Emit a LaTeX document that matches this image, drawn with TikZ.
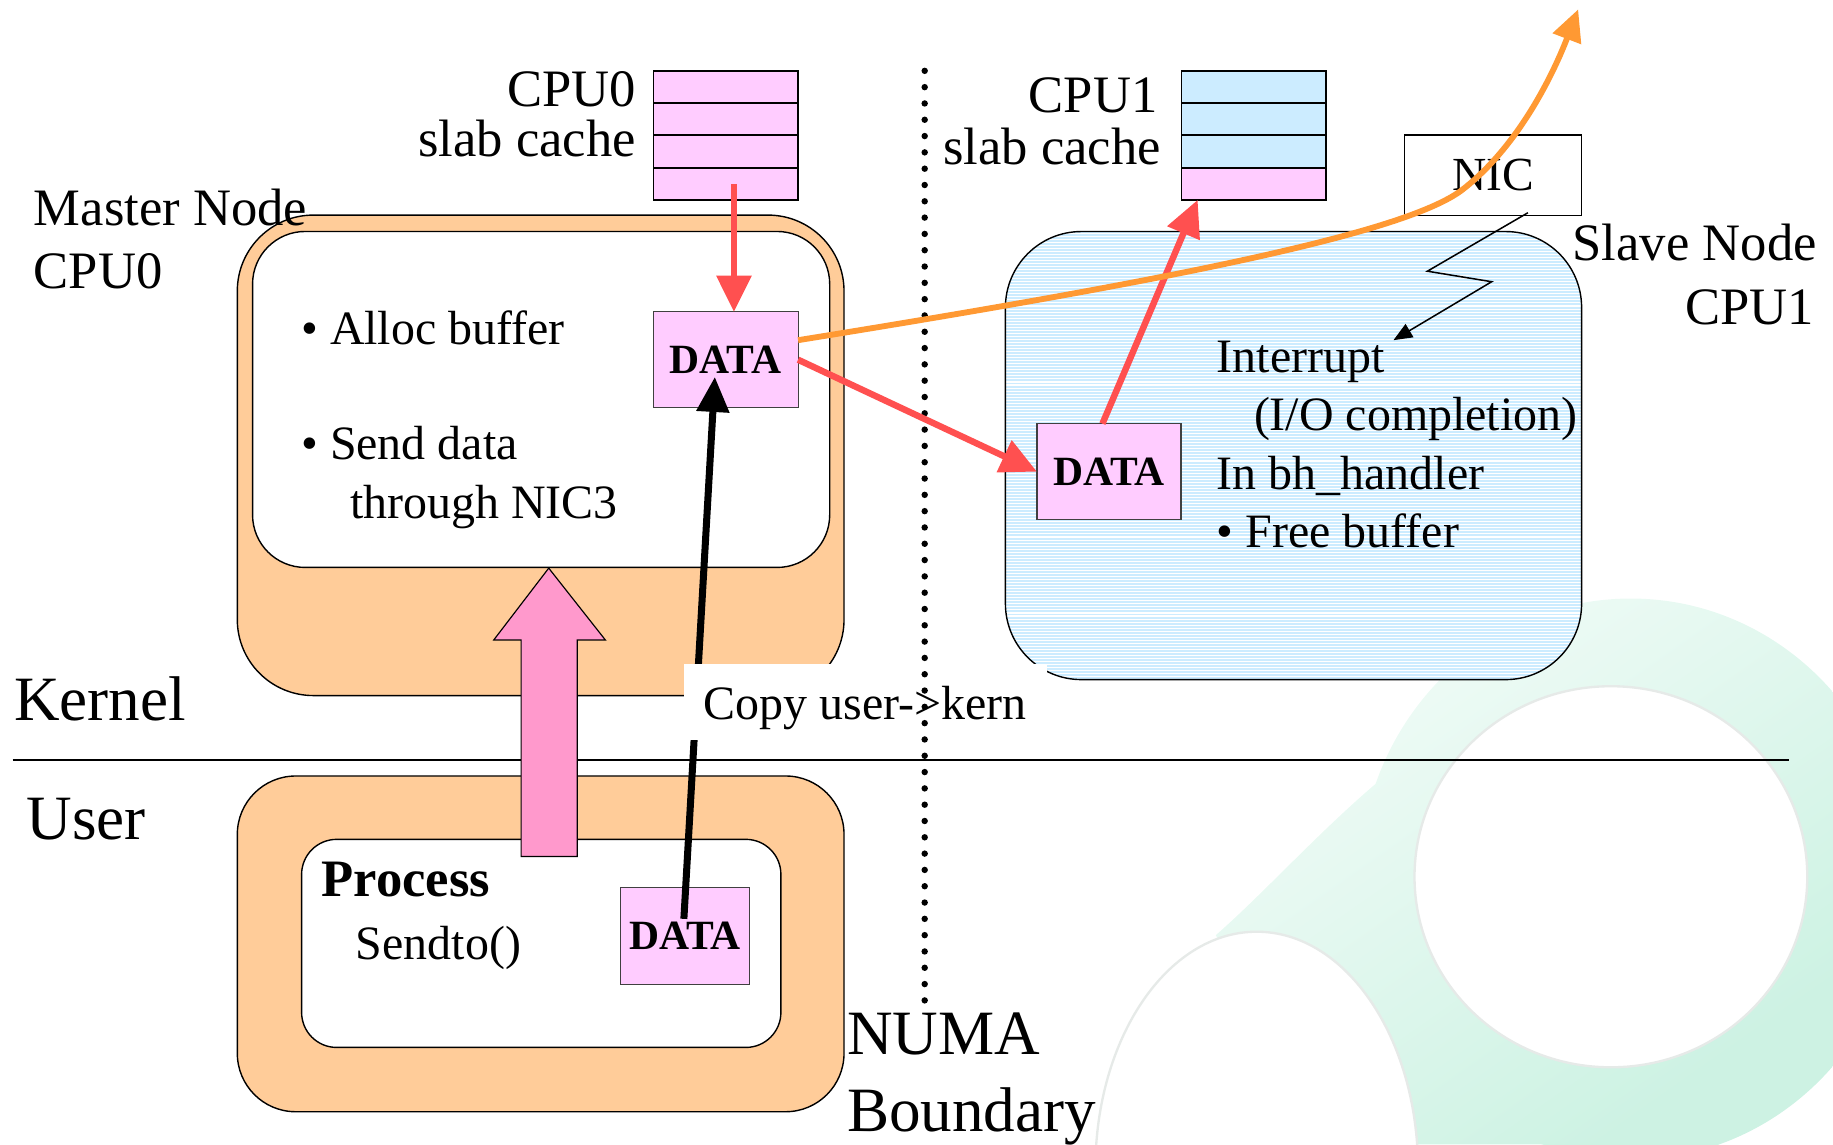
\documentclass[tikz,border=0pt]{standalone}
\usepackage{fontspec}
\setmainfont{Liberation Serif}
\usetikzlibrary{arrows.meta,calc}

\definecolor{peach}{HTML}{FFCC99}
\definecolor{slabpink}{HTML}{FFCCFF}
\definecolor{slabblue}{HTML}{CCECFF}
\definecolor{redarrow}{HTML}{FF5050}
\definecolor{orangearrow}{HTML}{FF9933}
\definecolor{bigpink}{HTML}{FF99CC}
\definecolor{wmlight}{HTML}{FAFEFC}
\definecolor{wmteal}{HTML}{CDF2E3}
\definecolor{wmedge}{HTML}{E6EAE8}

\newcommand\fsz[1]{\fontsize{#1}{#1}\selectfont}

\begin{document}
\begin{tikzpicture}[x=1pt,y=-1pt,
  every node/.style={inner sep=0pt, outer sep=0pt},
  roundbox/.style={draw=black, line width=1.2pt},
  slabrow/.style={draw=black, line width=1.5pt, minimum width=123.7pt, minimum height=27.6pt},
  databox/.style={draw=black!75, line width=1pt, fill=slabpink, font=\fsz{35.6}\bfseries},
  txt/.style={font=\fsz{41}},
  midtxt/.style={font=\fsz{45}},
  bigtxt/.style={font=\fsz{54}},
  redarr/.style={draw=redarrow, line width=5.5pt, -{Triangle[length=31pt,width=29pt]}},
  blkarr/.style={draw=black, line width=6pt, -{Triangle[length=30pt,width=27pt]}},
  orarr/.style={draw=orangearrow, line width=5pt, -{Triangle[length=27pt,width=25pt]}},
  zig/.style={draw=black, line width=1.3pt, -{Triangle[length=16pt,width=13pt]}},
  dotline/.style={draw=black, line width=5.5pt, line cap=round, dash pattern=on 0pt off 13.95pt},
  wmshade/.style={top color=wmlight, bottom color=wmteal, shading angle=35}
]
\useasboundingbox (0,0) rectangle (1568,979);

% faint infinity watermark in the lower right corner
\begin{scope}
  \clip (1395,752) ellipse [x radius=232, y radius=240];
  \shade[wmshade] (880,480) rectangle (1568,979);
\end{scope}
\begin{scope}
  \clip (1215,640) -- (1335,979) -- (1150,979) -- (1040,800)
    .. controls (1080,765) and (1125,715) .. (1175,672) -- cycle;
  \shade[wmshade] (880,480) rectangle (1568,979);
\end{scope}
\fill[white] (1378,750) ellipse [x radius=168, y radius=163];
\fill[white] (1075,1000) ellipse [x radius=138, y radius=203];
\draw[wmedge, line width=2pt] (1378,750) ellipse [x radius=168, y radius=163];
\draw[wmedge, line width=2pt] (1075,1000) ellipse [x radius=138, y radius=203];

% master node, kernel side
\node[roundbox, fill=peach, rounded corners=65pt, minimum width=519pt, minimum height=411pt] (kouter) at (462.5,389.5) {};
\node[roundbox, fill=white, rounded corners=45pt, minimum width=493.7pt, minimum height=287.4pt] (kinner) at (462.9,341.7) {};

% master node, user side
\node[roundbox, fill=peach, rounded corners=50pt, minimum width=519pt, minimum height=287.2pt] (uouter) at (462.5,807.4) {};
\node[roundbox, fill=white, rounded corners=30pt, minimum width=410pt, minimum height=178pt] (uinner) at (463,807) {};

% slave node
\node[roundbox, fill=slabblue, rounded corners=65pt, minimum width=492.9pt, minimum height=383.3pt,
  path picture={\foreach \k in {0,...,150}
    \draw[white, line width=0.9pt] ($(path picture bounding box.north west)+(0,1.3+2.6*\k)$) -- ++(520,0);}]
  (slave) at (1106.5,389.7) {};

% slab caches
\node[slabrow, fill=slabpink] (slabA1) at (620.85,74.4) {};
\node[slabrow, fill=slabpink] (slabA2) at (620.85,102.0) {};
\node[slabrow, fill=slabpink] (slabA3) at (620.85,129.6) {};
\node[slabrow, fill=slabpink] (slabA4) at (620.85,157.2) {};
\node[slabrow, fill=slabblue, minimum width=123.3pt] (slabB1) at (1072.35,74.4) {};
\node[slabrow, fill=slabblue, minimum width=123.3pt] (slabB2) at (1072.35,102.0) {};
\node[slabrow, fill=slabblue, minimum width=123.3pt] (slabB3) at (1072.35,129.6) {};
\node[slabrow, fill=slabpink, minimum width=123.3pt] (slabB4) at (1072.35,157.2) {};

% NIC
\node[draw=black, line width=1pt, fill=white, minimum width=151.2pt, minimum height=68.8pt, font=\fsz{40.6}] (nic) at (1277.3,149.9) {NIC};

% data buffers
\node[databox, minimum width=123.7pt, minimum height=81.8pt] (kdata) at (620.85,307.7) {DATA};
\node[databox, minimum width=110pt, minimum height=83pt] (udata) at (586,800.5) {DATA};
\node[databox, minimum width=123.3pt, minimum height=82.1pt] (sdata) at (948.65,403.45) {DATA};

% kernel / user boundary
\coordinate (hlineL) at (10.8,649.8);
\coordinate (hlineR) at (1530,649.8);
\draw[line width=1.5pt] (hlineL) -- (hlineR);

% system call arrow from the process into the kernel
\draw[fill=bigpink, line width=1pt] ($(kinner.south)+(6.5,0.6)$) coordinate (ptip)
  -- ++(48.4,61.4) -- ++(-24,0) -- ++(0,185.2) -- ++(-48,0) -- ++(0,-185.2) -- ++(-23.4,0) -- cycle;

% copy from user buffer to kernel buffer
\draw[blkarr] ($(udata.north)+(-1,27)$) -- ($(kdata.south)+(-9.35,-26.2)$);

\node[anchor=base west, fill=white, font=\fsz{41}, inner xsep=17pt, inner ysep=0pt,
  text height=48pt, text depth=17.4pt] (copylbl) at (585,615.6) {Copy user->kern};

% NUMA boundary
\coordinate (numaT) at (791,60.6);
\coordinate (numaB) at (791,857.6);
\draw[dotline] (numaT) -- (numaB);

% buffer flow
\draw[redarr] ($(slabA4.center)+(7,0)$) coordinate (sA) -- (sA |- kdata.north);
\draw[redarr] (kdata.east) -- (sdata.west);
\draw[redarr] ($(sdata.north)+(-5.6,0)$) -- ($(slabB4.south west)+(13.8,0)$);

% packet leaving through the NIC
\coordinate (orangeend) at (1350,8);
\draw[orarr] ($(kdata.east)+(0,-16.7)$) .. controls (1000,240) and (1200,200) .. (1250,163)
  .. controls (1300,125) and (1330,60) .. (orangeend);

% interrupt from the NIC
\coordinate (irqend) at (1192,291);
\draw[zig] ($(nic.south)+(29.7,-2.3)$) -- (1221,232) -- (1276,241) -- (irqend);

% labels
\node[midtxt, anchor=base east] (cpu0a) at (544,91.5) {CPU0};
\node[midtxt, anchor=base east] (cpu0b) at (544,134) {slab cache};
\node[midtxt, anchor=base west] (mastera) at (29,193) {Master Node};
\node[midtxt, anchor=base west] (masterb) at (29,247) {CPU0};
\node[txt, anchor=base west] (alloc) at (257.7,295) {• Alloc buffer};
\node[txt, anchor=base west] (senda) at (257.7,393) {• Send data};
\node[txt, anchor=base west] (sendb) at (299.5,443.5) {through NIC3};
\node[bigtxt, anchor=base west] (kernel) at (12,616) {Kernel};
\node[bigtxt, anchor=base west] (user) at (22.8,718) {User};
\node[midtxt, anchor=base west, font=\fsz{45}\bfseries] (process) at (275,767) {Process};
\node[txt, anchor=base west] (sendto) at (304.5,821) {Sendto()};
\node[bigtxt, anchor=base west] (numaa) at (724.6,902) {NUMA};
\node[bigtxt, anchor=base west] (numab) at (724.6,967.5) {Boundary};
\node[midtxt, anchor=base east] (cpu1a) at (990,96.6) {CPU1};
\node[midtxt, anchor=base east] (cpu1b) at (993,140.8) {slab cache};
\node[midtxt, anchor=base east] (slavea) at (1554,222.7) {Slave Node};
\node[midtxt, anchor=base east] (slaveb) at (1551.5,278) {CPU1};
\node[txt, anchor=base west] (irqa) at (1041,319) {Interrupt};
\node[txt, anchor=base west] (irqb) at (1072.7,368) {(I/O completion)};
\node[txt, anchor=base west] (bha) at (1041,419) {In bh\_handler};
\node[txt, anchor=base west] (bhb) at (1041,468) {• Free buffer};
\end{tikzpicture}
\end{document}
